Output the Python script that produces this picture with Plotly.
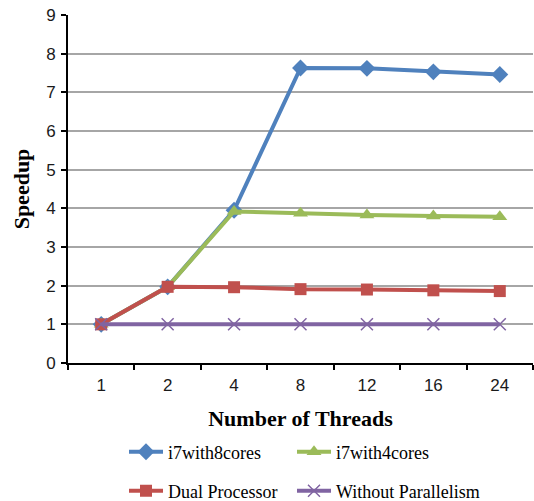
import plotly.graph_objects as go

threads = ["1", "2", "4", "8", "12", "16", "24"]
i7_8cores = [1.0, 1.97, 3.95, 7.63, 7.62, 7.53, 7.46]
i7_4cores = [1.0, 1.97, 3.92, 3.87, 3.83, 3.80, 3.78]
dual_proc = [1.0, 1.97, 1.96, 1.91, 1.90, 1.88, 1.86]
no_parallel = [1.0, 1.0, 1.0, 1.0, 1.0, 1.0, 1.0]

fig = go.Figure()

# name, values, colour, marker symbol, marker size, legend id, legend position (px)
series = [
    ("i7with8cores", i7_8cores, "#4F81BD", "diamond", 13, "legend", (124, 452)),
    ("i7with4cores", i7_4cores, "#9BBB59", "triangle-up", 13, "legend2", (292, 452)),
    ("Dual Processor", dual_proc, "#C0504D", "square", 12, "legend3", (124, 491)),
    ("Without Parallelism", no_parallel, "#8064A2", "x-thin", 12, "legend4", (292, 491)),
]

legend_common = dict(
    orientation="h", xref="container", yref="container", xanchor="left",
    yanchor="middle",
    font=dict(family="Liberation Serif", size=18, color="#000000"),
    bgcolor="rgba(0,0,0,0)", itemwidth=34,
)

legends = {}
for name, vals, color, sym, size, leg, (lx, ly) in series:
    marker = dict(symbol=sym, size=size, color=color)
    if sym == "x-thin":
        marker["line"] = dict(color=color, width=1.5)
    fig.add_trace(go.Scatter(
        x=threads, y=vals, name=name, mode="lines+markers",
        line=dict(color=color, width=4), marker=marker, legend=leg,
    ))
    legends[leg] = dict(x=lx / 534, y=1 - ly / 501, **legend_common)

fig.update_layout(
    width=534, height=501,
    margin=dict(l=68, r=1, t=15, b=138),
    plot_bgcolor="white", paper_bgcolor="white",
    showlegend=True,
    **legends,
    xaxis=dict(
        type="category", range=[-0.5, 6.5], tickson="boundaries",
        ticks="outside", ticklen=5, tickwidth=1.5, tickcolor="#000000",
        ticklabelstandoff=6,
        showline=True, linecolor="#000000", linewidth=2, showgrid=False,
        tickfont=dict(family="Liberation Sans", size=17, color="#1a1a1a"),
        title=dict(text="<b>Number of Threads</b>", standoff=16,
                   font=dict(family="Liberation Serif", size=22, color="#000000")),
    ),
    yaxis=dict(
        range=[0, 9], dtick=1, ticks="outside", ticklen=5, tickwidth=1.5,
        tickcolor="#000000", showline=True, linecolor="#000000", linewidth=2,
        ticklabelstandoff=2,
        showgrid=True, gridcolor="#A6A6A6", gridwidth=1.5, zeroline=False,
        tickfont=dict(family="Liberation Sans", size=17, color="#1a1a1a"),
        title=dict(text="<b>Speedup</b>", standoff=10,
                   font=dict(family="Liberation Serif", size=22, color="#000000")),
    ),
)

fig.write_html("out.html")
